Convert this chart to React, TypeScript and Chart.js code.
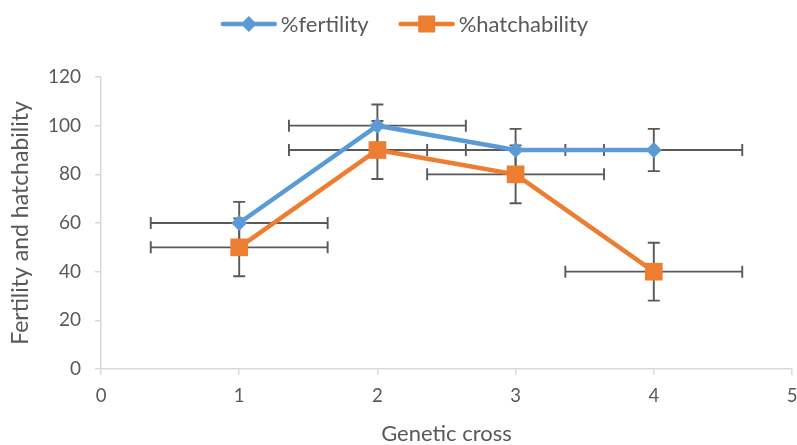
import React, { useEffect, useRef } from "react";
import { Chart, registerables } from "chart.js";

Chart.register(...registerables);

// ---- data ----
const crosses = [1, 2, 3, 4];
const fertility = [60, 100, 90, 90];
const hatchability = [50, 90, 80, 40];
const fertilityErrX = [0.64, 0.64, 0.64, 0.64];
const fertilityErrY = [8.7, 8.7, 8.7, 8.7];
const hatchabilityErrX = [0.64, 0.64, 0.64, 0.64];
const hatchabilityErrY = [11.9, 11.9, 11.9, 11.9];
const seriesLabels = ["%fertility", "%hatchability"];
const xTitle = "Genetic cross";
const yTitle = "Fertility and hatchability";
const xRange = [0, 5];
const yRange = [0, 120];
const yStep = 20;

const FONT = 'Lato, "Open Sans", sans-serif';
const TEXT = "#595959";
const AXIS = "#d9d9d9";
const BLUE = "#5B9BD5";
const ORANGE = "#ED7D31";

const errorBarPlugin = {
  id: "errorBars",
  beforeDatasetsDraw(chart: any) {
    const { ctx } = chart;
    const xs = chart.scales.x;
    const ys = chart.scales.y;
    const cap = 6;
    ctx.save();
    ctx.strokeStyle = "#595959";
    ctx.lineWidth = 1.9;
    chart.data.datasets.forEach((ds: any) => {
      ds.data.forEach((pt: any, i: number) => {
        const ex = ds.errX[i];
        const ey = ds.errY[i];
        const px = xs.getPixelForValue(pt.x);
        const py = ys.getPixelForValue(pt.y);
        const x0 = xs.getPixelForValue(pt.x - ex);
        const x1 = xs.getPixelForValue(pt.x + ex);
        const y0 = ys.getPixelForValue(pt.y - ey);
        const y1 = ys.getPixelForValue(pt.y + ey);
        ctx.beginPath();
        ctx.moveTo(x0, py);
        ctx.lineTo(x1, py);
        ctx.moveTo(x0, py - cap);
        ctx.lineTo(x0, py + cap);
        ctx.moveTo(x1, py - cap);
        ctx.lineTo(x1, py + cap);
        ctx.moveTo(px, y0);
        ctx.lineTo(px, y1);
        ctx.moveTo(px - cap, y0);
        ctx.lineTo(px + cap, y0);
        ctx.moveTo(px - cap, y1);
        ctx.lineTo(px + cap, y1);
        ctx.stroke();
      });
    });
    ctx.restore();
  },
};

function drawMarker(ctx: CanvasRenderingContext2D, style: string, x: number, y: number, r: number, color: string) {
  ctx.fillStyle = color;
  ctx.beginPath();
  if (style === "rectRot") {
    ctx.moveTo(x, y - r);
    ctx.lineTo(x + r, y);
    ctx.lineTo(x, y + r);
    ctx.lineTo(x - r, y);
    ctx.closePath();
  } else {
    const s = r * Math.SQRT1_2;
    ctx.rect(x - s, y - s, 2 * s, 2 * s);
  }
  ctx.fill();
}

const legendPlugin = {
  id: "lineLegend",
  afterDraw(chart: any) {
    const { ctx } = chart;
    const lineLen = 56;
    const gapText = 4;
    const gapItem = 30;
    const cy = 24;
    ctx.save();
    ctx.font = `22px ${FONT}`;
    ctx.textBaseline = "middle";
    const items = chart.data.datasets.map((ds: any) => ({
      ds,
      w: lineLen + gapText + ctx.measureText(ds.label).width,
    }));
    const total = items.reduce((a: number, it: any) => a + it.w, 0) + gapItem * (items.length - 1);
    let x = chart.width / 2 + 6 - total / 2;
    items.forEach((it: any) => {
      const ds = it.ds;
      ctx.strokeStyle = ds.borderColor;
      ctx.lineWidth = 4.5;
      ctx.lineCap = "round";
      ctx.beginPath();
      ctx.moveTo(x + 2, cy);
      ctx.lineTo(x + lineLen - 2, cy);
      ctx.stroke();
      drawMarker(ctx, ds.pointStyle, x + lineLen / 2, cy, ds.pointStyle === "rectRot" ? 8 : 12, ds.borderColor);
      ctx.fillStyle = TEXT;
      ctx.textAlign = "left";
      ctx.fillText(ds.label, x + lineLen + gapText, cy + 1);
      x += it.w + gapItem;
    });
    ctx.restore();
  },
};

export default function App() {
  const canvasRef = useRef<HTMLCanvasElement | null>(null);

  useEffect(() => {
    const canvas = canvasRef.current;
    if (!canvas) return;
    const chart = new Chart(canvas, {
      type: "line",
      data: {
        datasets: [
          {
            label: seriesLabels[0],
            data: crosses.map((c, i) => ({ x: c, y: fertility[i] })),
            borderColor: BLUE,
            backgroundColor: BLUE,
            borderWidth: 4.5,
            pointStyle: "rectRot",
            pointRadius: 8,
            pointHoverRadius: 8,
            pointBorderWidth: 0,
            pointBackgroundColor: BLUE,
            tension: 0,
            clip: false,
            errX: fertilityErrX,
            errY: fertilityErrY,
          } as any,
          {
            label: seriesLabels[1],
            data: crosses.map((c, i) => ({ x: c, y: hatchability[i] })),
            borderColor: ORANGE,
            backgroundColor: ORANGE,
            borderWidth: 4.5,
            pointStyle: "rect",
            pointRadius: 12.5,
            pointHoverRadius: 12.5,
            pointBorderWidth: 0,
            pointBackgroundColor: ORANGE,
            tension: 0,
            clip: false,
            errX: hatchabilityErrX,
            errY: hatchabilityErrY,
          } as any,
        ],
      },
      options: {
        responsive: false,
        animation: false,
        events: [],
        layout: { autoPadding: false, padding: { top: 77, right: 5, left: 0, bottom: 0 } },
        plugins: {
          legend: { display: false },
          tooltip: { enabled: false },
        },
        scales: {
          x: {
            type: "linear",
            min: xRange[0],
            max: xRange[1],
            ticks: {
              stepSize: 1,
              color: TEXT,
              font: { family: FONT, size: 18.5 },
              padding: 10,
            },
            grid: {
              display: true,
              drawOnChartArea: false,
              drawTicks: true,
              tickLength: 6,
              color: AXIS,
              lineWidth: 1.5,
            },
            border: { display: true, color: AXIS, width: 1.5 },
            title: {
              display: true,
              text: xTitle,
              color: TEXT,
              font: { family: FONT, size: 22, lineHeight: 1 },
              padding: { top: -1, bottom: 0 },
            },
            afterFit(scale: any) {
              scale.height = 76;
              scale.paddingLeft = 0;
              scale.paddingRight = 0;
            },
          },
          y: {
            type: "linear",
            min: yRange[0],
            max: yRange[1],
            ticks: {
              stepSize: yStep,
              color: TEXT,
              font: { family: FONT, size: 19 },
              padding: 14,
            },
            grid: {
              display: true,
              drawOnChartArea: false,
              drawTicks: true,
              tickLength: 6,
              color: AXIS,
              lineWidth: 1.5,
            },
            border: { display: true, color: AXIS, width: 1.5 },
            title: {
              display: true,
              text: yTitle,
              color: TEXT,
              font: { family: FONT, size: 23, lineHeight: 1.2 },
              padding: { top: 7, bottom: 0 },
            },
            afterFit(scale: any) {
              scale.width = 101;
              scale.paddingTop = 0;
              scale.paddingBottom = 0;
            },
          },
        },
      },
      plugins: [errorBarPlugin, legendPlugin],
    } as any);
    return () => chart.destroy();
  }, []);

  return (
    <div style={{ position: "fixed", left: 0, top: 0, width: 797, height: 445, background: "#fff" }}>
      <canvas ref={canvasRef} width={797} height={445} style={{ width: 797, height: 445, display: "block" }} />
    </div>
  );
}
